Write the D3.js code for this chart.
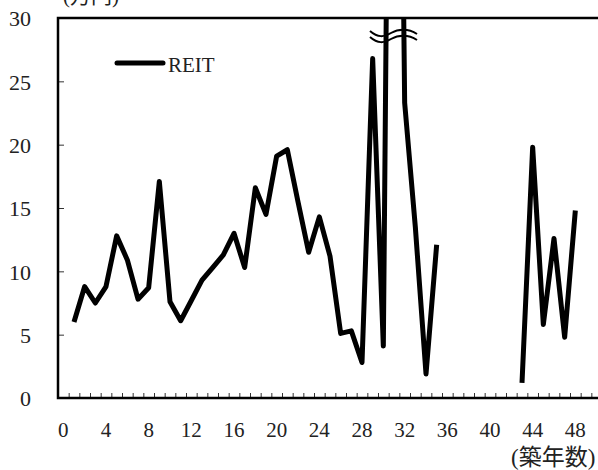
<!DOCTYPE html>
<html>
<head>
<meta charset="utf-8">
<script src="https://cdn.jsdelivr.net/npm/d3@7"></script>
<style>
  html, body { margin: 0; padding: 0; background: #fff; overflow: hidden; }
  svg { display: block; }
  text { font-family: "Liberation Serif", "DejaVu Serif", serif; fill: #222; }
  text.jp { font-family: "Liberation Serif", "Noto Sans CJK JP", serif; }
</style>
</head>
<body>
<svg id="chart" width="598" height="470"></svg>
<script>
// Building age in years (categories 0..50)
const ages = d3.range(0, 51);
// REIT values (万円) by building age; null = no data
const reitValues = [
  null, 6.0, 8.8, 7.5, 8.8, 12.8, 10.9, 7.8, 8.7, 17.1,
  7.6, 6.1, 7.7, 9.3, 10.3, 11.3, 13.0, 10.3, 16.6, 14.5,
  19.1, 19.6, 15.5, 11.5, 14.3, 11.2, 5.1, 5.3, 2.8, 26.8,
  4.1, 100, 23.3, 13.5, 1.9, 12.1, null, null, null, null,
  null, null, null, 1.2, 19.8, 5.8, 12.6, 4.8, 14.8, null,
  null
];
const yTicks = [0, 5, 10, 15, 20, 25, 30];
const xTickLabels = [0, 4, 8, 12, 16, 20, 24, 28, 32, 36, 40, 44, 48];
const seriesName = "REIT";
const yUnit = "(万円)";
const xTitle = "(築年数)";

const svg = d3.select("#chart");
const plotL = 58, plotR = 602, plotT = 18, plotB = 398;
const numFont = '"Liberation Serif", "DejaVu Serif", serif';

const x = d3.scaleBand().domain(ages).range([plotL, plotR]).padding(0);
const xEdge = d3.scaleLinear().domain([0, ages.length]).range([plotL, plotR]);
const y = d3.scaleLinear().domain([0, 30]).range([plotB, plotT]);

// clip for the plot area
svg.append("defs").append("clipPath").attr("id", "plotClip")
  .append("rect").attr("x", plotL).attr("y", plotT).attr("width", plotR - plotL).attr("height", plotB - plotT);

// minor ticks between categories
const xTickAxis = d3.axisBottom(xEdge).tickValues(d3.range(1, ages.length)).tickSize(-5).tickFormat("");
const gxt = svg.append("g").attr("transform", `translate(0,${plotB})`).call(xTickAxis);
gxt.select(".domain").remove();
gxt.selectAll(".tick line").attr("stroke", "#333").attr("stroke-width", 1);

// x labels at category centres
const xLabelAxis = d3.axisBottom(x).tickValues(xTickLabels).tickSize(0).tickPadding(0);
const gxl = svg.append("g").attr("transform", `translate(0,${plotB})`).call(xLabelAxis);
gxl.select(".domain").remove();
gxl.selectAll(".tick text")
  .attr("y", 39).attr("dy", null)
  .style("font-family", numFont).style("font-size", "21px").attr("fill", "#222");

// y axis
const yAxis = d3.axisLeft(y).tickValues(yTicks).tickSize(-6).tickPadding(27);
const gy = svg.append("g").attr("transform", `translate(${plotL},0)`).call(yAxis);
gy.select(".domain").remove();
gy.selectAll(".tick line").attr("stroke", "#333").attr("stroke-width", 1);
gy.selectAll(".tick text")
  .attr("dy", "0.36em")
  .style("font-family", numFont).style("font-size", "22px").attr("fill", "#222");

// plot frame
svg.append("rect")
  .attr("x", plotL).attr("y", plotT).attr("width", plotR - plotL).attr("height", plotB - plotT)
  .attr("fill", "none").attr("stroke", "#000").attr("stroke-width", 2.5);

// data line
const pts = ages.map((a, i) => ({ a, v: reitValues[i] }));
const line = d3.line()
  .defined(d => d.v !== null)
  .x(d => x(d.a) + x.bandwidth() / 2)
  .y(d => y(d.v));
svg.append("path")
  .datum(pts)
  .attr("clip-path", "url(#plotClip)")
  .attr("d", line)
  .attr("fill", "none").attr("stroke", "#000")
  .attr("stroke-width", 5).attr("stroke-linejoin", "round").attr("stroke-linecap", "butt");

// axis break marks over the off-scale spike
const bx = x(31) + x.bandwidth() / 2;
const breakG = svg.append("g").attr("fill", "none").attr("stroke", "#000").attr("stroke-width", 2);
[0, 6].forEach(off => {
  breakG.append("path")
    .attr("d", `M${bx - 24},${31 + off} C${bx - 16},${38 + off} ${bx - 10},${37 + off} ${bx - 3},${33 + off} S${bx + 14},${28 + off} ${bx + 23},${34 + off}`);
});

// legend
svg.append("line")
  .attr("x1", 117).attr("x2", 163).attr("y1", 63).attr("y2", 63)
  .attr("stroke", "#000").attr("stroke-width", 5).attr("stroke-linecap", "round");
svg.append("text").attr("x", 168).attr("y", 72)
  .style("font-family", numFont).style("font-size", "21px").text(seriesName);

// unit label (top-left) and x title
svg.append("text").attr("class", "jp").attr("x", 63).attr("y", 3)
  .style("font-size", "21px").text(yUnit);
svg.append("text").attr("class", "jp").attr("x", 511).attr("y", 465)
  .style("font-size", "23px").text(xTitle);
</script>
</body>
</html>
